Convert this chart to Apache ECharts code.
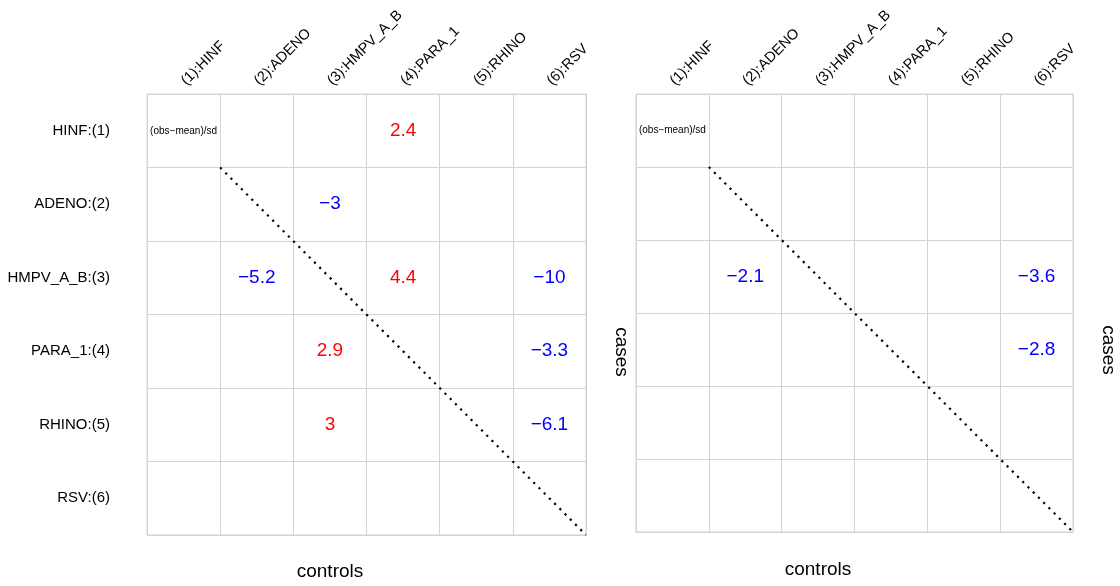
<!DOCTYPE html>
<html>
<head>
<meta charset="utf-8">
<script src="https://cdn.jsdelivr.net/npm/echarts@6/dist/echarts.min.js"></script>
<style>html,body{margin:0;padding:0;background:#fff;}#c{width:1120px;height:586px;}</style>
</head>
<body>
<div id="c"></div>
<script>
const colLabels = ['(1):HINF', '(2):ADENO', '(3):HMPV_A_B', '(4):PARA_1', '(5):RHINO', '(6):RSV'];
const rowLabels = ['HINF:(1)', 'ADENO:(2)', 'HMPV_A_B:(3)', 'PARA_1:(4)', 'RHINO:(5)', 'RSV:(6)'];
// [column index, row index, (obs-mean)/sd]
const leftValues = [[3, 0, 2.4], [2, 1, -3], [1, 2, -5.2], [3, 2, 4.4], [5, 2, -10], [2, 3, 2.9], [5, 3, -3.3], [2, 4, 3], [5, 4, -6.1]];
const rightValues = [[1, 2, -2.1], [5, 2, -3.6], [5, 3, -2.8]];
const cornerNote = '(obs\u2212mean)/sd';
const diagonal = [[1, 1], [6, 6]];
const xTitle = 'controls';
const yTitle = 'cases';

const FONT = "'Liberation Sans', Arial, Helvetica, sans-serif";
const GRIDLINE = '#d3d3d3';

function cellItems(vals) {
  const items = vals.map(v => ({
    value: v,
    label: { color: v[2] > 0 ? '#ff0000' : '#0000ff' }
  }));
  items.push({ value: [0, 0, null], label: { formatter: cornerNote, fontSize: 10, color: '#000' } });
  return items;
}

function fmt(p) {
  const v = p.value[2];
  return String(v).replace('-', '\u2212');
}

const grids = [
  { left: 147, top: 94, width: 439, height: 441, show: true, borderColor: GRIDLINE, borderWidth: 1 },
  { left: 636, top: 94, width: 437, height: 438, show: true, borderColor: GRIDLINE, borderWidth: 1 }
];

const xAxes = [], yAxes = [], series = [];
[0, 1].forEach(g => {
  xAxes.push({
    type: 'category', gridIndex: g, data: colLabels, position: 'top',
    axisLine: { show: false }, axisTick: { show: false }, splitLine: { show: false },
    axisLabel: { rotate: 45, margin: 11, fontSize: 14.5, color: '#000', fontFamily: FONT, interval: 0 }
  });
  xAxes.push({
    type: 'value', gridIndex: g, min: 0, max: 6, interval: 1, position: 'bottom',
    axisLine: { show: false }, axisTick: { show: false }, axisLabel: { show: false },
    splitLine: { show: true, lineStyle: { color: GRIDLINE, width: 1 } }
  });
  yAxes.push({
    type: 'category', gridIndex: g, data: rowLabels, inverse: true,
    axisLine: { show: false }, axisTick: { show: false }, splitLine: { show: false },
    axisLabel: { show: g === 0, margin: 37, fontSize: 15, color: '#000', fontFamily: FONT, interval: 0 }
  });
  yAxes.push({
    type: 'value', gridIndex: g, min: 0, max: 6, interval: 1, inverse: true, position: 'right',
    axisLine: { show: false }, axisTick: { show: false }, axisLabel: { show: false },
    splitLine: { show: true, lineStyle: { color: GRIDLINE, width: 1 } }
  });
  series.push({
    type: 'scatter', xAxisIndex: g * 2, yAxisIndex: g * 2, symbolSize: 0,
    itemStyle: { opacity: 1 },
    data: cellItems(g === 0 ? leftValues : rightValues),
    label: { show: true, position: 'inside', formatter: fmt, fontSize: 19, fontFamily: FONT, opacity: 1 },
    emphasis: { disabled: true },
    silent: true, z: 5
  });
  series.push({
    type: 'line', xAxisIndex: g * 2 + 1, yAxisIndex: g * 2 + 1, data: diagonal,
    symbol: 'none', silent: true, z: 4,
    lineStyle: { color: '#000', width: 2.2, type: [2.2, 5.2] }
  });
});

const titleText = (x, y, text, rot) => ({
  type: 'text', x: x, y: y, rotation: rot || 0,
  style: { text: text, font: '19px ' + FONT, fill: '#000', align: 'center', verticalAlign: 'middle' }
});

const chart = echarts.init(document.getElementById('c'), null, { renderer: 'canvas' });
chart.setOption({
  backgroundColor: '#fff',
  animation: false,
  grid: grids,
  xAxis: xAxes,
  yAxis: yAxes,
  series: series,
  graphic: [
    titleText(330, 572, xTitle),
    titleText(818, 570, xTitle),
    titleText(621, 352, yTitle, -Math.PI / 2),
    titleText(1108, 350, yTitle, -Math.PI / 2)
  ]
});
</script>
</body>
</html>
